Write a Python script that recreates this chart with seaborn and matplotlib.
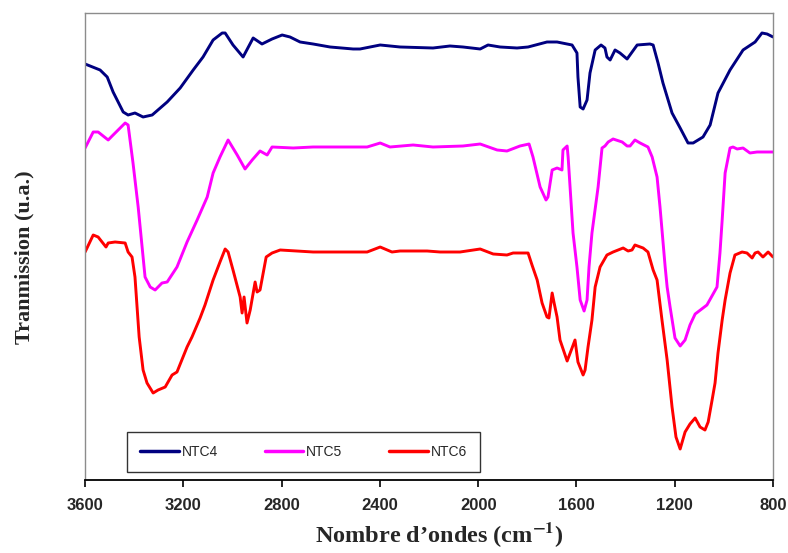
import matplotlib
matplotlib.use("Agg")
import matplotlib.pyplot as plt
import numpy as np
import pandas as pd
import seaborn as sns

sns.set_style("white")
plt.rcParams['font.family'] = ['Liberation Sans', 'DejaVu Sans']
plt.rcParams['mathtext.fontset'] = 'stix'

# spectra (wavenumber in cm-1, transmission in arbitrary units)
wn4 = [3600, 3539, 3510, 3486, 3445, 3425, 3397, 3364, 3327, 3266, 3213, 3160, 3120, 3079,
       3042, 3030, 2998, 2957, 2916, 2880, 2839, 2798, 2766, 2725, 2672, 2603, 2509, 2481,
       2440, 2399, 2318, 2184, 2115, 2062, 1992, 1960, 1911, 1842, 1797, 1720, 1679, 1618,
       1598, 1594, 1585, 1573, 1557, 1545, 1524, 1500, 1484, 1476, 1463, 1443, 1423, 1394,
       1353, 1301, 1288, 1268, 1248, 1211, 1178, 1146, 1125, 1085, 1056, 1024, 975, 922,
       873, 845, 824, 800]
t4 = [416, 410, 403, 388, 368, 365, 367, 363, 365, 378, 392, 410, 423, 440,
      447, 447, 435, 423, 442, 436, 441, 445, 443, 438, 436, 433, 431, 431,
      433, 435, 433, 432, 434, 433, 431, 435, 433, 432, 433, 438, 438, 435,
      427, 403, 373, 371, 380, 407, 430, 435, 432, 423, 420, 430, 427, 421,
      435, 436, 435, 417, 397, 367, 352, 337, 337, 343, 355, 387, 410, 430,
      438, 447, 446, 443]

wn5 = [3600, 3567, 3547, 3506, 3490, 3437, 3425, 3405, 3384, 3356, 3335, 3315, 3287, 3266,
       3226, 3185, 3144, 3103, 3079, 3051, 3018, 2981, 2949, 2920, 2888, 2859, 2839, 2753,
       2672, 2452, 2412, 2399, 2359, 2265, 2184, 2062, 1992, 1923, 1883, 1830, 1793, 1777,
       1748, 1724, 1716, 1699, 1679, 1659, 1655, 1638, 1634, 1614, 1598, 1585, 1569, 1557,
       1549, 1537, 1512, 1496, 1484, 1471, 1451, 1414, 1394, 1382, 1362, 1341, 1309, 1292,
       1272, 1260, 1239, 1231, 1219, 1199, 1178, 1158, 1138, 1117, 1069, 1028, 1016, 1007,
       995, 975, 963, 946, 922, 894, 865, 800]
t5 = [332, 348, 348, 340, 344, 357, 355, 317, 273, 203, 193, 190, 197, 198,
      213, 238, 260, 283, 307, 323, 340, 325, 311, 320, 329, 325, 333, 332,
      333, 333, 336, 337, 333, 335, 333, 334, 336, 330, 329, 334, 336, 323,
      293, 280, 283, 310, 312, 310, 330, 334, 323, 247, 213, 180, 169, 180,
      213, 247, 293, 332, 334, 338, 341, 338, 334, 334, 340, 337, 333, 323,
      303, 273, 213, 193, 173, 142, 134, 140, 155, 166, 175, 193, 227, 260,
      307, 332, 333, 331, 332, 327, 328, 328]

wn6 = [3600, 3567, 3547, 3515, 3506, 3478, 3437, 3425, 3409, 3397, 3380, 3364, 3348, 3323,
       3303, 3274, 3246, 3226, 3185, 3165, 3132, 3112, 3079, 3051, 3030, 3018, 2998, 2969,
       2961, 2953, 2941, 2928, 2908, 2900, 2888, 2863, 2839, 2806, 2672, 2452, 2420, 2399,
       2351, 2318, 2208, 2155, 2074, 1992, 1939, 1883, 1858, 1797, 1781, 1760, 1740, 1720,
       1712, 1699, 1691, 1679, 1667, 1638, 1618, 1606, 1594, 1573, 1565, 1553, 1537, 1524,
       1504, 1476, 1451, 1410, 1390, 1374, 1362, 1329, 1309, 1288, 1272, 1252, 1231, 1211,
       1195, 1178, 1158, 1138, 1117, 1097, 1077, 1064, 1048, 1036, 1024, 1007, 995, 975,
       955, 926, 906, 885, 873, 861, 841, 820, 800]
t6 = [228, 245, 243, 233, 237, 238, 237, 228, 223, 203, 143, 110, 97, 87,
      90, 93, 105, 108, 133, 143, 162, 175, 200, 218, 231, 228, 210, 183,
      167, 183, 157, 170, 198, 188, 190, 223, 227, 230, 228, 228, 231, 233,
      228, 229, 229, 228, 228, 231, 226, 225, 227, 227, 215, 200, 177, 163,
      162, 187, 177, 163, 140, 119, 132, 140, 118, 105, 110, 133, 160, 193,
      213, 225, 228, 232, 229, 230, 235, 232, 228, 210, 200, 160, 120, 73,
      43, 31, 48, 56, 62, 53, 50, 58, 80, 97, 127, 160, 180, 207,
      225, 228, 227, 222, 227, 228, 223, 228, 223]

samples = ['NTC4', 'NTC5', 'NTC6']
colors = ['#000080', '#FF00FF', '#FF0000']

df = pd.concat([
    pd.DataFrame({'wn': wn4, 'T': t4, 'sample': 'NTC4'}),
    pd.DataFrame({'wn': wn5, 'T': t5, 'sample': 'NTC5'}),
    pd.DataFrame({'wn': wn6, 'T': t6, 'sample': 'NTC6'}),
], ignore_index=True)

fig = plt.figure(figsize=(7.88, 5.53), dpi=100)
ax = fig.add_axes([0.108, 0.132, 0.873, 0.8445])

sns.lineplot(data=df, x='wn', y='T', hue='sample', hue_order=samples,
             palette=dict(zip(samples, colors)), linewidth=2.1,
             sort=False, estimator=None, ax=ax)

ax.set_xlim(3600, 800)
ax.set_ylim(0, 467)
ax.set_xticks(np.arange(3600, 799, -400))
ax.set_yticks([])
ax.tick_params(axis='x', direction='out', length=5, width=1.2, color='black',
               bottom=True, labelsize=12, pad=8)
for lab in ax.get_xticklabels():
    lab.set_fontweight('bold')

for side in ['left', 'top', 'right']:
    ax.spines[side].set_color('#8c8c8c')
    ax.spines[side].set_linewidth(1.0)
ax.spines['bottom'].set_color('black')
ax.spines['bottom'].set_linewidth(1.3)

serif = ['Liberation Serif', 'DejaVu Serif']
ax.set_xlabel("Nombre d\u2019ondes (cm$^{\\mathbf{-1}}$)", fontsize=17.5, fontweight='bold',
              family=serif)
ax.xaxis.set_label_coords(0.5145, -0.086)
ax.set_ylabel("Tranmission (u.a.)", fontsize=16, fontweight='bold', family=serif)
ax.yaxis.set_label_coords(-0.074, 0.477)

leg = ax.legend(loc='lower left', bbox_to_anchor=(0.061, 0.017, 0.513, 0.088),
                mode='expand', ncol=3, frameon=True, fancybox=False,
                borderaxespad=0, fontsize=10, handlelength=2.8, handletextpad=0.2,
                borderpad=0.95)
leg.get_frame().set_edgecolor('black')
leg.get_frame().set_linewidth(1.0)
for line in leg.get_lines():
    line.set_linewidth(2.5)

fig.savefig('out.png', dpi=100)
